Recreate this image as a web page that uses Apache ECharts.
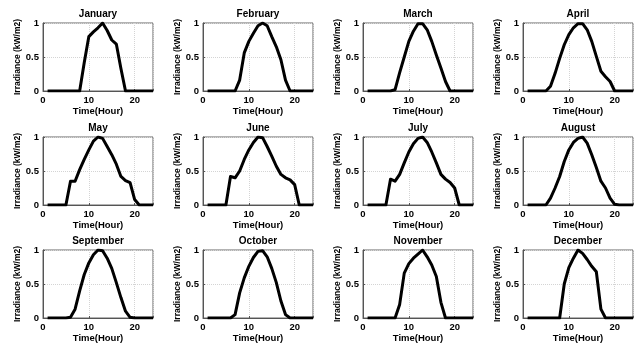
<!DOCTYPE html>
<html>
<head>
<meta charset="utf-8">
<script src="https://cdn.jsdelivr.net/npm/echarts@6/dist/echarts.min.js"></script>
<style>
  html, body { margin: 0; padding: 0; background: #fff; }
  #chart { width: 639px; height: 348px; }
</style>
</head>
<body>
<div id="chart"></div>
<script>
const hours = [1, 2, 3, 4, 5, 6, 7, 8, 9, 10, 11, 12, 13, 14, 15, 16, 17, 18, 19, 20, 21, 22, 23, 24]
const monthNames = ['January', 'February', 'March', 'April', 'May', 'June',
  'July', 'August', 'September', 'October', 'November', 'December']
const xTicks = [0, 10, 20]
const yTicks = [0, 0.5, 1]

// irradiance per hour (kW/m2)
const january = [0, 0, 0, 0, 0, 0, 0, 0, 0.42, 0.8, 0.87, 0.93, 1.0, 0.89, 0.75, 0.69, 0.33, 0, 0, 0, 0, 0, 0, 0]
const february = [0, 0, 0, 0, 0, 0, 0, 0.16, 0.56, 0.73, 0.85, 0.96, 1.0, 0.96, 0.8, 0.65, 0.46, 0.16, 0, 0, 0, 0, 0, 0]
const march = [0, 0, 0, 0, 0, 0, 0.02, 0.27, 0.5, 0.73, 0.88, 0.99, 0.99, 0.9, 0.73, 0.53, 0.34, 0.14, 0, 0, 0, 0, 0, 0]
const april = [0, 0, 0, 0, 0, 0.07, 0.26, 0.48, 0.68, 0.83, 0.93, 0.99, 0.99, 0.9, 0.73, 0.51, 0.29, 0.21, 0.14, 0, 0, 0, 0, 0]
const may = [0, 0, 0, 0, 0, 0.35, 0.35, 0.52, 0.67, 0.81, 0.94, 1.0, 0.98, 0.86, 0.74, 0.6, 0.42, 0.36, 0.33, 0.08, 0, 0, 0, 0]
const june = [0, 0, 0, 0, 0, 0.42, 0.4, 0.5, 0.67, 0.81, 0.92, 1.0, 0.99, 0.86, 0.72, 0.57, 0.45, 0.4, 0.37, 0.3, 0, 0, 0, 0]
const july = [0, 0, 0, 0, 0, 0.38, 0.35, 0.45, 0.62, 0.78, 0.9, 0.98, 1.0, 0.92, 0.78, 0.62, 0.45, 0.38, 0.33, 0.25, 0, 0, 0, 0]
const august = [0, 0, 0, 0, 0, 0.1, 0.25, 0.42, 0.64, 0.81, 0.92, 0.98, 1.0, 0.91, 0.74, 0.55, 0.35, 0.25, 0.1, 0.01, 0, 0, 0, 0]
const september = [0, 0, 0, 0, 0, 0.01, 0.13, 0.4, 0.64, 0.81, 0.93, 1.0, 0.99, 0.88, 0.73, 0.52, 0.3, 0.1, 0.01, 0, 0, 0, 0, 0]
const october = [0, 0, 0, 0, 0, 0, 0.05, 0.37, 0.59, 0.76, 0.89, 0.98, 0.99, 0.9, 0.73, 0.52, 0.25, 0.05, 0, 0, 0, 0, 0, 0]
const november = [0, 0, 0, 0, 0, 0, 0, 0.2, 0.66, 0.8, 0.88, 0.94, 1.0, 0.9, 0.78, 0.61, 0.23, 0, 0, 0, 0, 0, 0, 0]
const december = [0, 0, 0, 0, 0, 0, 0, 0, 0.5, 0.74, 0.88, 1.0, 0.95, 0.86, 0.76, 0.68, 0.13, 0, 0, 0, 0, 0, 0, 0]

const monthData = [january, february, march, april, may, june,
  july, august, september, october, november, december]

const FONT = 'Arial, "Liberation Sans", sans-serif'
const colLefts = [43, 203, 363, 523]
const rowTops = [23, 137, 250]
const cellW = 110
const cellH = 68

const chart = echarts.init(document.getElementById('chart'), null, { renderer: 'canvas' })

const grid = []
const xAxis = []
const yAxis = []
const series = []
const title = []

monthNames.forEach((name, i) => {
  const left = colLefts[i % 4]
  const top = rowTops[Math.floor(i / 4)]

  grid.push({
    left: left,
    top: top,
    width: cellW,
    height: cellH,
    show: true,
    borderColor: '#666',
    borderWidth: 1,
    backgroundColor: '#fff'
  })

  title.push({
    text: name,
    left: left + cellW / 2,
    top: top - 14,
    textAlign: 'center',
    padding: 0,
    textStyle: { fontFamily: FONT, fontSize: 10, fontWeight: 'bold', color: '#000' }
  })

  xAxis.push({
    gridIndex: i,
    type: 'value',
    min: xTicks[0],
    max: 24,
    interval: xTicks[1] - xTicks[0],
    name: 'Time(Hour)',
    nameLocation: 'middle',
    nameGap: 11,
    nameTextStyle: { fontFamily: FONT, fontSize: 9.5, fontWeight: 'bold', color: '#000' },
    axisLine: { show: true, lineStyle: { color: '#555', width: 1 } },
    axisTick: { show: true, inside: true, length: 2, lineStyle: { color: '#555' } },
    axisLabel: {
      fontFamily: FONT, fontSize: 9.5, fontWeight: 'bold', color: '#000', margin: 4,
      formatter: (v) => (xTicks.indexOf(v) >= 0 ? String(v) : '')
    },
    splitLine: { show: true, lineStyle: { color: '#d4d4d4', type: 'dotted', width: 1 } }
  })

  yAxis.push({
    gridIndex: i,
    type: 'value',
    min: yTicks[0],
    max: yTicks[2],
    interval: yTicks[1] - yTicks[0],
    name: 'Irradiance (kW/m2)',
    nameLocation: 'middle',
    nameGap: 17,
    nameTextStyle: { fontFamily: FONT, fontSize: 8.5, fontWeight: 'bold', color: '#000' },
    axisLine: { show: true, lineStyle: { color: '#555', width: 1 } },
    axisTick: { show: true, inside: true, length: 2, lineStyle: { color: '#555' } },
    axisLabel: { fontFamily: FONT, fontSize: 9.5, fontWeight: 'bold', color: '#000', margin: 4 },
    splitLine: { show: true, lineStyle: { color: '#d4d4d4', type: 'dotted', width: 1 } }
  })

  series.push({
    type: 'line',
    xAxisIndex: i,
    yAxisIndex: i,
    data: hours.map((h, k) => [h, monthData[i][k]]),
    showSymbol: false,
    animation: false,
    lineStyle: { color: '#000', width: 3, join: 'round' }
  })
})

chart.setOption({
  animation: false,
  backgroundColor: '#fff',
  title,
  grid,
  xAxis,
  yAxis,
  series
})
</script>
</body>
</html>
